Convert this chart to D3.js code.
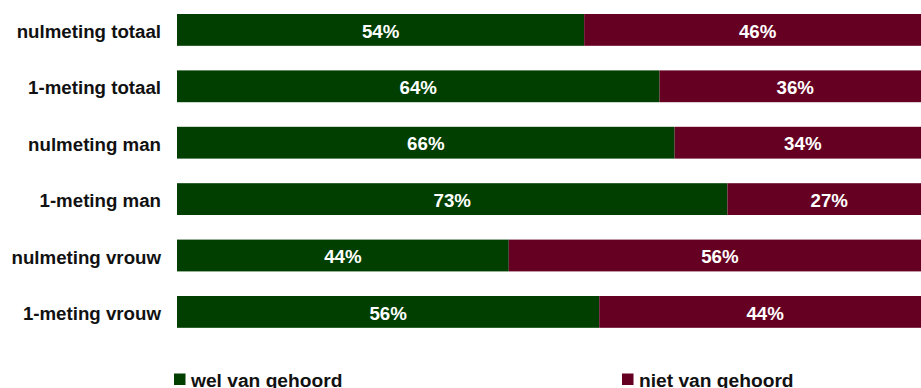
<!DOCTYPE html>
<html>
<head>
<meta charset="utf-8">
<script src="https://cdn.jsdelivr.net/npm/d3@7"></script>
<style>
  html, body { margin: 0; padding: 0; background: #fff; overflow: hidden; }
  svg { display: block; }
  text { font-family: "Liberation Sans", Arial, sans-serif; font-weight: bold; }
</style>
</head>
<body>
<div id="chart"></div>
<script>
// Groups (rows, top to bottom)
const categories = [
  "nulmeting totaal",
  "1-meting totaal",
  "nulmeting man",
  "1-meting man",
  "nulmeting vrouw",
  "1-meting vrouw"
];
// Share per answer, in percent
const welVanGehoord  = [54, 64, 66, 73, 44, 56];
const nietVanGehoord = [46, 36, 34, 27, 56, 44];
const seriesNames = ["wel van gehoord", "niet van gehoord"];
const seriesColors = ["#003f00", "#660022"];

const width = 921, height = 388;

const svg = d3.select("#chart").append("svg")
  .attr("width", width)
  .attr("height", height);

// The 100% bar runs a little past the right edge of the canvas
const x = d3.scaleLinear().domain([0, 100]).range([177, 931]);
const y = d3.scaleBand()
  .domain(categories)
  .range([1.7, 340.1])
  .paddingInner(0.436)
  .paddingOuter(0.218);

const rows = categories.map((c, i) => ({
  cat: c,
  parts: [
    { key: 0, x0: 0, x1: welVanGehoord[i], v: welVanGehoord[i] },
    { key: 1, x0: welVanGehoord[i], x1: welVanGehoord[i] + nietVanGehoord[i], v: nietVanGehoord[i] }
  ]
}));

const row = svg.selectAll("g.row").data(rows).join("g")
  .attr("class", "row")
  .attr("transform", d => `translate(0,${y(d.cat)})`);

row.selectAll("rect").data(d => d.parts).join("rect")
  .attr("x", d => x(d.x0))
  .attr("width", d => x(d.x1) - x(d.x0))
  .attr("y", 0)
  .attr("height", y.bandwidth())
  .attr("fill", d => seriesColors[d.key]);

row.selectAll("text.val").data(d => d.parts).join("text")
  .attr("class", "val")
  .attr("x", d => (x(d.x0) + x(d.x1)) / 2)
  .attr("y", y.bandwidth() / 2)
  .attr("dy", "0.41em")
  .attr("text-anchor", "middle")
  .attr("fill", "#fff")
  .attr("font-size", 18.7)
  .text(d => d.v + "%");

// Category labels
svg.selectAll("text.cat").data(categories).join("text")
  .attr("class", "cat")
  .attr("x", 161)
  .attr("y", d => y(d) + y.bandwidth() / 2)
  .attr("dy", "0.43em")
  .attr("text-anchor", "end")
  .attr("fill", "#111")
  .attr("font-size", 18.7)
  .text(d => d);

// Legend
const legendX = [174, 622];
const legend = svg.selectAll("g.legend").data(seriesNames).join("g")
  .attr("class", "legend")
  .attr("transform", (d, i) => `translate(${legendX[i]},373.5)`);
legend.append("rect")
  .attr("width", 11.5).attr("height", 11.5)
  .attr("fill", (d, i) => seriesColors[i]);
legend.append("text")
  .attr("x", 17)
  .attr("y", 13)
  .attr("fill", "#111")
  .attr("font-size", 19.2)
  .text(d => d);
</script>
</body>
</html>
